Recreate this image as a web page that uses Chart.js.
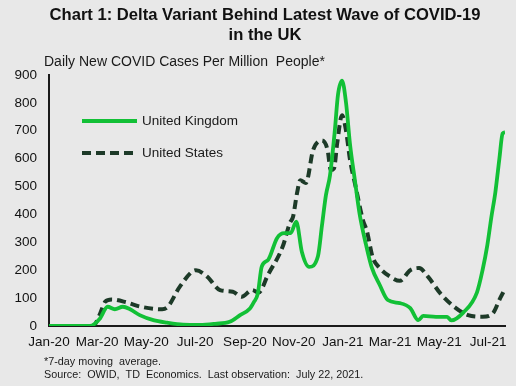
<!DOCTYPE html>
<html>
<head>
<meta charset="utf-8">
<script src="https://cdn.jsdelivr.net/npm/chart.js@4.4.1/dist/chart.umd.min.js"></script>
<style>
  html, body { margin:0; padding:0; background:#e8e8e8; }
  #wrap { width:516px; height:386px; position:relative; }
</style>
</head>
<body>
<div id="wrap"><canvas id="covidChart" width="516" height="386"></canvas></div>
<script>
/* DATA */
const ukDates = ["2020-01-01","2020-02-21","2020-03-04","2020-03-14","2020-03-23","2020-04-02","2020-04-11","2020-04-23",
  "2020-05-10","2020-05-27","2020-06-16","2020-07-07","2020-07-26","2020-08-13","2020-08-26","2020-09-07","2020-09-12",
  "2020-09-17","2020-09-22","2020-09-30","2020-10-11","2020-10-20","2020-10-28","2020-11-04","2020-11-11","2020-11-20",
  "2020-12-01","2020-12-06","2020-12-11","2020-12-16","2020-12-22","2020-12-26","2020-12-31","2021-01-05","2021-01-10",
  "2021-01-16","2021-01-22","2021-01-30","2021-02-06","2021-02-16","2021-02-26","2021-03-13","2021-03-26","2021-04-05",
  "2021-04-11","2021-04-27","2021-05-11","2021-05-16","2021-05-31","2021-06-17","2021-06-24","2021-06-30","2021-07-05",
  "2021-07-10","2021-07-15","2021-07-19","2021-07-22"];
const ukValues = [0,0,25,69,60,69,60,39,
  21,12,5,4,8,15,39,62,85,
  115,213,237,315,333,333,374,265,212,
  250,360,470,540,700,830,880,800,650,
  523,400,290,210,147,93,82,64,21,
  36,33,33,20,48,120,200,290,390,
  480,600,690,695];

const usDates = ["2020-01-01","2020-02-25","2020-03-04","2020-03-11","2020-03-19","2020-04-07","2020-04-23","2020-05-21",
  "2020-05-28","2020-06-12","2020-07-02","2020-07-16","2020-08-01","2020-08-17","2020-08-28","2020-09-10","2020-09-18",
  "2020-09-30","2020-10-18","2020-10-27","2020-10-31","2020-11-05","2020-11-09","2020-11-16","2020-11-25","2020-12-06",
  "2020-12-13","2020-12-17","2020-12-21","2020-12-25","2020-12-31","2021-01-05","2021-01-10","2021-01-17","2021-01-26",
  "2021-01-31","2021-02-07","2021-02-16","2021-03-01","2021-03-13","2021-03-26","2021-04-06","2021-04-17","2021-05-03",
  "2021-05-21","2021-06-06","2021-06-24","2021-07-07","2021-07-16","2021-07-22"];
const usValues = [0,0,40,87,95,84,70,60,
  69,141,200,177,129,123,105,129,120,
  185,284,369,392,477,523,513,631,665,
  631,559,565,656,756,700,595,499,380,
  340,248,208,177,162,200,208,177,115,
  66,39,33,46,100,133];

const tickDates = ["2020-01-01","2020-03-01","2020-05-01","2020-07-01","2020-09-01","2020-11-01",
  "2021-01-01","2021-03-01","2021-05-01","2021-07-01"];
const tickLabels = ["Jan-20","Mar-20","May-20","Jul-20","Sep-20","Nov-20","Jan-21","Mar-21","May-21","Jul-21"];
const lastDate = "2021-07-22";

/* HELPERS */
function dayIndex(s) {
  const [y, m, d] = s.split("-").map(Number);
  return (Date.UTC(y, m - 1, d) - Date.UTC(2020, 0, 1)) / 864e5;
}
const toPoints = (dates, vals) => dates.map((d, i) => ({ x: dayIndex(d), y: vals[i] }));
const tickDays = tickDates.map(dayIndex);

const GREEN = "#12c036";
const DARK = "#1d3a28";
const FONT = "'Liberation Sans', Arial, sans-serif";

/* TEXT + LEGEND */
const decor = {
  id: "decor",
  beforeDraw(chart) {
    const c = chart.ctx;
    c.save();
    c.fillStyle = "#e8e8e8";
    c.fillRect(0, 0, chart.width, chart.height);
    c.restore();
  },
  afterDraw(chart) {
    const c = chart.ctx;
    c.save();
    c.fillStyle = "#111";
    c.textAlign = "center";
    c.textBaseline = "middle";
    c.font = "bold 16.6px " + FONT;
    c.fillText("Chart 1: Delta Variant Behind Latest Wave of COVID-19", 265, 15);
    c.fillText("in the UK", 265, 35);

    c.textAlign = "left";
    c.font = "14px " + FONT;
    c.fillStyle = "#1a1a1a";
    c.fillText("Daily New COVID Cases Per Million  People*", 44, 62);

    // legend
    c.font = "13.5px " + FONT;
    c.lineWidth = 4;
    c.strokeStyle = GREEN;
    c.beginPath(); c.moveTo(82, 121); c.lineTo(137, 121); c.stroke();
    c.strokeStyle = DARK;
    c.setLineDash([9, 5]);
    c.beginPath(); c.moveTo(82, 153); c.lineTo(137, 153); c.stroke();
    c.setLineDash([]);
    c.fillText("United Kingdom", 142, 121);
    c.fillText("United States", 142, 153);

    // footnotes
    c.font = "10.8px " + FONT;
    c.fillText("*7-day moving  average.", 44, 362);
    c.fillText("Source:  OWID,  TD  Economics.  Last observation:  July 22, 2021.", 44, 375);
    c.restore();
  }
};

new Chart(document.getElementById("covidChart"), {
  type: "line",
  data: {
    datasets: [
      { label: "United Kingdom", data: toPoints(ukDates, ukValues), borderColor: GREEN,
        borderWidth: 3.8, pointRadius: 0, tension: 0.3, cubicInterpolationMode: "monotone", order: 1 },
      { label: "United States", data: toPoints(usDates, usValues), borderColor: DARK,
        borderWidth: 4, borderDash: [9, 5], pointRadius: 0, tension: 0.3, cubicInterpolationMode: "monotone", order: 2 }
    ]
  },
  options: {
    responsive: false,
    animation: false,
    layout: { padding: { top: 75, right: 11, left: 0, bottom: 0 } },
    plugins: { legend: { display: false }, tooltip: { enabled: false }, title: { display: false } },
    scales: {
      x: {
        type: "linear",
        min: 0,
        max: dayIndex(lastDate),
        afterBuildTicks: s => { s.ticks = tickDays.map(v => ({ value: v })); },
        afterFit: s => { s.height = 60; },
        grid: { display: false, drawTicks: false },
        border: { color: "#1a1a1a", width: 2 },
        ticks: {
          autoSkip: false, maxRotation: 0, padding: 8, color: "#111",
          font: { family: FONT, size: 13.5 },
          callback: v => tickLabels[tickDays.indexOf(v)]
        }
      },
      y: {
        min: 0, max: 900,
        afterFit: s => { s.width = 49; },
        grid: { display: false, drawTicks: false },
        border: { color: "#1a1a1a", width: 2 },
        ticks: { stepSize: 100, padding: 12, color: "#111", font: { family: FONT, size: 13.5 } }
      }
    }
  },
  plugins: [decor]
});
</script>
</body>
</html>
